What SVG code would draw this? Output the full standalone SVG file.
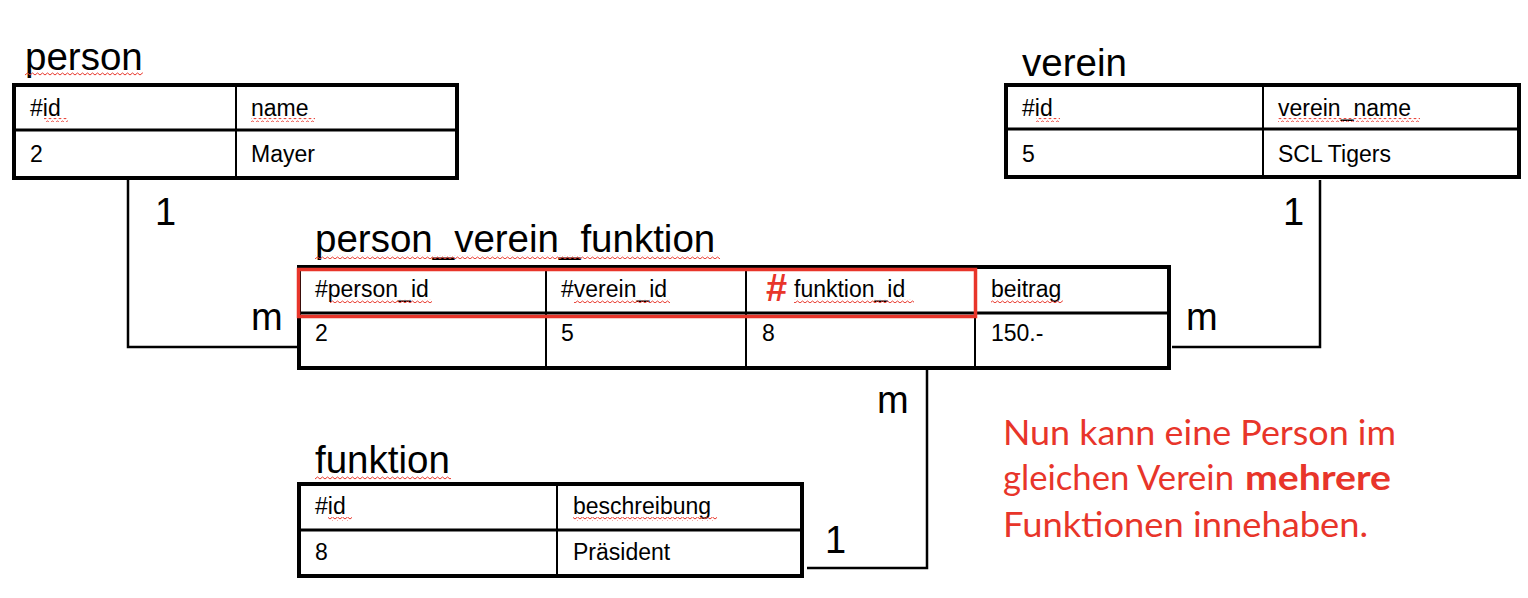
<svg xmlns="http://www.w3.org/2000/svg" width="1528" height="598" viewBox="0 0 1528 598">
<style>
.title{font-family:"Liberation Sans",Arial,sans-serif;font-size:38.5px;fill:#000}
.cell{font-family:"Liberation Sans",Arial,sans-serif;font-size:23px;fill:#000}
.card{font-family:"Liberation Sans",Arial,sans-serif;font-size:38px;fill:#000}
.outer{fill:#fff;stroke:#000;stroke-width:4}
.hdiv{stroke:#000;stroke-width:3}
.vdiv{stroke:#000;stroke-width:2}
.conn{fill:none;stroke:#000;stroke-width:2.5}
.note{font-family:Lato,"Open Sans",sans-serif;font-size:34px;fill:#e8352a}
.sq{fill:url(#squig)}
</style>
<defs>
<pattern id="squig" width="5" height="4" patternUnits="userSpaceOnUse">
<path d="M0,3 L2.5,1 L5,3" fill="none" stroke="#e8352a" stroke-width="1"/>
</pattern>
</defs>
<g id="connectors">
<polyline class="conn" points="128,180 128,347 297,347"/>
<polyline class="conn" points="1320,180 1320,347 1172,347"/>
<polyline class="conn" points="927,370 927,568 807,568"/>
<text class="card" x="155" y="225">1</text>
<text class="card" x="251" y="330">m</text>
<text class="card" x="1283" y="225">1</text>
<text class="card" x="1186" y="330">m</text>
<text class="card" x="877" y="413">m</text>
<text class="card" x="825" y="553">1</text>
</g>
<g id="person">
<text class="title" x="25" y="70">person</text>
<rect class="sq" x="25" y="72" width="118" height="4"/>
<rect class="outer" x="14" y="85" width="443" height="93"/>
<line class="hdiv" x1="14" y1="130" x2="457" y2="130"/>
<line class="vdiv" x1="236" y1="85" x2="236" y2="178"/>
<text class="cell" x="30" y="116">#id</text>
<rect class="sq" x="44" y="118" width="24" height="4"/>
<text class="cell" x="251" y="116">name</text>
<rect class="sq" x="251" y="118" width="64" height="4"/>
<text class="cell" x="30" y="162">2</text>
<text class="cell" x="251" y="162">Mayer</text>
</g>
<g id="verein">
<text class="title" x="1022" y="76">verein</text>
<rect class="outer" x="1006" y="85" width="513" height="92"/>
<line class="hdiv" x1="1006" y1="129" x2="1519" y2="129"/>
<line class="vdiv" x1="1263" y1="85" x2="1263" y2="177"/>
<text class="cell" x="1022" y="116">#id</text>
<rect class="sq" x="1036" y="118" width="24" height="4"/>
<text class="cell" x="1278" y="116">verein_name</text>
<rect class="sq" x="1278" y="118" width="142" height="4"/>
<text class="cell" x="1022" y="162">5</text>
<text class="cell" x="1278" y="162">SCL Tigers</text>
</g>
<g id="person_verein_funktion">
<text class="title" x="315" y="252">person_verein_funktion</text>
<rect class="sq" x="315" y="255" width="405" height="4"/>
<rect class="outer" x="299" y="267" width="870" height="101"/>
<line class="hdiv" x1="299" y1="313" x2="1169" y2="313"/>
<line class="vdiv" x1="546" y1="267" x2="546" y2="368"/>
<line class="vdiv" x1="746" y1="267" x2="746" y2="368"/>
<line class="vdiv" x1="975" y1="267" x2="975" y2="368"/>
<text class="cell" x="315" y="297">#person_id</text>
<rect class="sq" x="330" y="299" width="102" height="4"/>
<text class="cell" x="561" y="297">#verein_id</text>
<rect class="sq" x="574" y="299" width="96" height="4"/>
<text x="766" y="301" style="font-family:'Liberation Sans',Arial,sans-serif;font-size:38px;font-weight:bold;fill:#e8352a">#</text>
<text class="cell" x="794" y="297">funktion_id</text>
<rect class="sq" x="794" y="299" width="120" height="4"/>
<text class="cell" x="991" y="297">beitrag</text>
<rect class="sq" x="991" y="299" width="72" height="4"/>
<text class="cell" x="315" y="341">2</text>
<text class="cell" x="561" y="341">5</text>
<text class="cell" x="762" y="341">8</text>
<text class="cell" x="991" y="341">150.-</text>
<rect x="298.5" y="269.5" width="677" height="47" fill="none" stroke="#e8352a" stroke-width="3.5"/>
</g>
<g id="funktion">
<text class="title" x="315" y="473">funktion</text>
<rect class="sq" x="315" y="476" width="136" height="4"/>
<rect class="outer" x="299" y="484" width="503" height="92"/>
<line class="hdiv" x1="299" y1="530" x2="802" y2="530"/>
<line class="vdiv" x1="557" y1="484" x2="557" y2="576"/>
<text class="cell" x="315" y="514">#id</text>
<rect class="sq" x="328" y="517" width="24" height="4"/>
<text class="cell" x="573" y="514">beschreibung</text>
<rect class="sq" x="573" y="517" width="144" height="4"/>
<text class="cell" x="315" y="560">8</text>
<text class="cell" x="573" y="560">Präsident</text>
</g>
<g id="note">
<text class="note" x="1003" y="445" textLength="393" lengthAdjust="spacingAndGlyphs">Nun kann eine Person im</text>
<text class="note" x="1003" y="490" textLength="231" lengthAdjust="spacingAndGlyphs">gleichen Verein</text>
<text class="note" x="1245" y="490" textLength="146" lengthAdjust="spacingAndGlyphs" font-weight="bold">mehrere</text>
<text class="note" x="1003" y="537" textLength="365" lengthAdjust="spacingAndGlyphs">Funktionen innehaben.</text>
</g>
</svg>
